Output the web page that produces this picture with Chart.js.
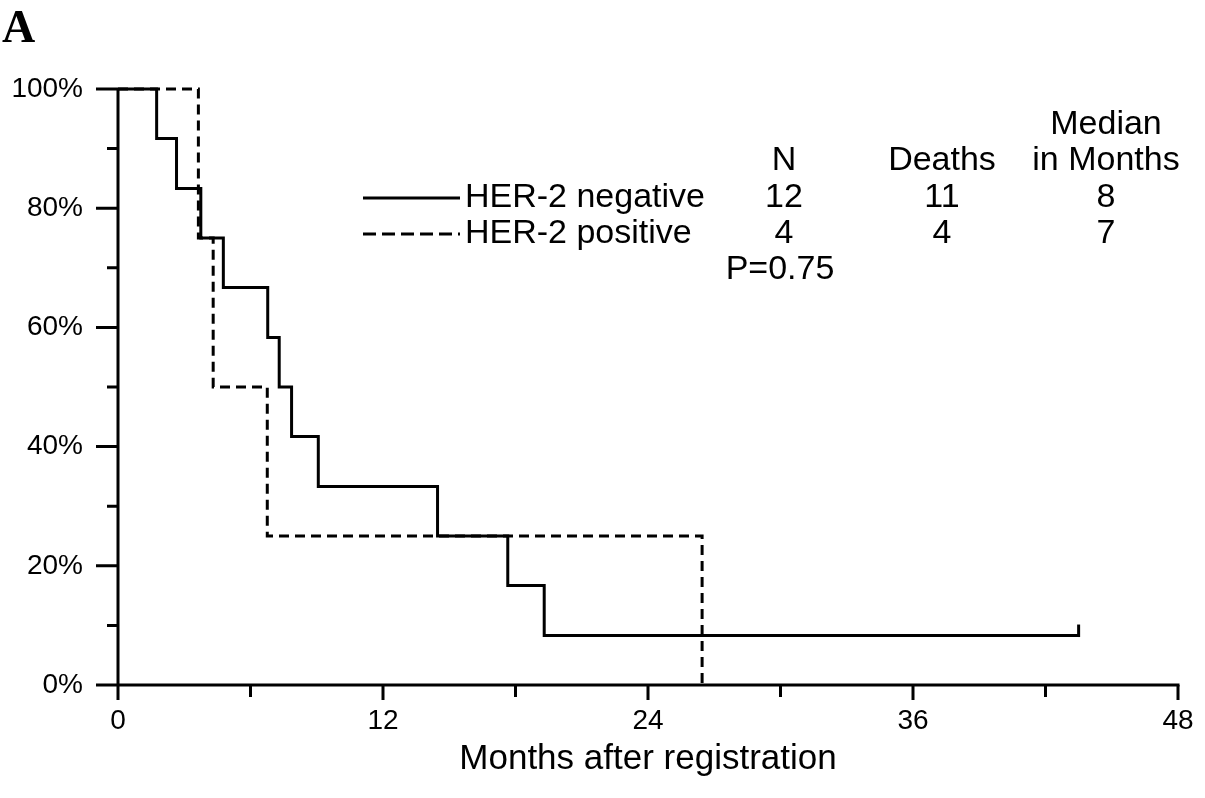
<!DOCTYPE html>
<html>
<head>
<meta charset="utf-8">
<style>
  html, body { margin: 0; padding: 0; background: #fff; }
  #wrap { width: 1205px; height: 798px; }
</style>
<script src="https://cdn.jsdelivr.net/npm/chart.js@4.4.0/dist/chart.umd.min.js"></script>
</head>
<body>
<div id="wrap"><canvas id="km" width="1205" height="798"></canvas></div>
<script>
// HER-2 negative (solid line), step points: month of event, survival after it
const negMonths = [0, 1.75, 2.65, 3.75, 4.77, 6.78, 7.3, 7.86, 9.07, 14.47, 17.65, 19.3, 43.5];
const negSurv = [100, 91.7, 83.3, 75, 66.7, 58.3, 50, 41.7, 33.3, 25, 16.7, 8.3, 8.3];
// HER-2 positive (dashed line)
const posMonths = [0, 3.64, 4.31, 6.76, 26.45];
const posSurv = [100, 75, 50, 25, 0];
// censored observation
const censorMonths = [43.5];
const censorSurv = [8.3];

// legend table
const groups = ['HER-2 negative', 'HER-2 positive'];
const nValues = ['12', '4'];
const deaths = ['11', '4'];
const medians = ['8', '7'];
const pValue = 'P=0.75';

const xTicks = [0, 12, 24, 36, 48];
const yTicks = [0, 20, 40, 60, 80, 100];

const FONT = "'Liberation Sans', Arial, sans-serif";

function toPoints(xs, ys) {
  return xs.map((x, i) => ({ x: x, y: ys[i] }));
}

// axes with long/short ticks, censor marks, legend table, panel letter
const kmDecor = {
  id: 'kmDecor',
  afterDatasetsDraw(chart) {
    const ctx = chart.ctx;
    const xs = chart.scales.x, ys = chart.scales.y;
    const left = xs.left, right = xs.right, top = ys.top, bottom = ys.bottom;
    ctx.save();
    ctx.strokeStyle = '#000';
    ctx.lineWidth = 3;
    ctx.lineCap = 'butt';

    // axis lines
    ctx.beginPath();
    ctx.moveTo(left - 22, bottom);
    ctx.lineTo(right + 1.5, bottom);
    ctx.moveTo(left, top);
    ctx.lineTo(left, bottom + 15);
    ctx.stroke();

    // y ticks every 10%
    ctx.beginPath();
    for (let v = 10; v <= 100; v += 10) {
      const py = ys.getPixelForValue(v);
      const len = yTicks.includes(v) ? 22 : 11;
      ctx.moveTo(left - len, py);
      ctx.lineTo(left, py);
    }
    // x ticks every 6 months
    for (let v = 6; v <= 48; v += 6) {
      const px = xs.getPixelForValue(v);
      const len = xTicks.includes(v) ? 15 : 12;
      ctx.moveTo(px, bottom);
      ctx.lineTo(px, bottom + len);
    }
    ctx.stroke();

    // censor marks
    ctx.beginPath();
    censorMonths.forEach((m, i) => {
      const px = xs.getPixelForValue(m);
      const py = ys.getPixelForValue(censorSurv[i]);
      ctx.moveTo(px, py + 1.5);
      ctx.lineTo(px, py - 11);
    });
    ctx.stroke();

    // legend table
    ctx.fillStyle = '#000';
    ctx.font = '34px ' + FONT;
    ctx.textBaseline = 'middle';
    const colN = 784, colD = 942, colM = 1106;
    ctx.textAlign = 'center';
    ctx.fillText('Median', colM, 125);
    ctx.fillText('N', colN, 161);
    ctx.fillText('Deaths', colD, 161);
    ctx.fillText('in Months', colM, 161);
    const rowY = [198, 234];
    const dashes = [[], [13, 6]];
    groups.forEach((g, i) => {
      ctx.setLineDash(dashes[i]);
      ctx.beginPath();
      ctx.moveTo(363, rowY[i]);
      ctx.lineTo(460, rowY[i]);
      ctx.stroke();
      ctx.setLineDash([]);
      ctx.textAlign = 'left';
      ctx.fillText(g, 465, rowY[i]);
      ctx.textAlign = 'center';
      ctx.fillText(nValues[i], colN, rowY[i]);
      ctx.fillText(deaths[i], colD, rowY[i]);
      ctx.fillText(medians[i], colM, rowY[i]);
    });
    ctx.fillText(pValue, 780, 270);

    // panel letter
    ctx.font = "bold 46px 'Liberation Serif', 'Times New Roman', serif";
    ctx.textAlign = 'left';
    ctx.textBaseline = 'alphabetic';
    ctx.fillText('A', 2, 42);
    ctx.restore();
  }
};

new Chart(document.getElementById('km'), {
  type: 'scatter',
  data: {
    datasets: [
      {
        label: groups[0],
        data: toPoints(negMonths, negSurv),
        showLine: true,
        stepped: true,
        borderColor: '#000',
        borderWidth: 3,
        pointRadius: 0,
        clip: false
      },
      {
        label: groups[1],
        data: toPoints(posMonths, posSurv),
        showLine: true,
        stepped: true,
        borderColor: '#000',
        borderWidth: 3,
        borderDash: [10, 6],
        pointRadius: 0,
        clip: false
      }
    ]
  },
  options: {
    responsive: false,
    animation: false,
    layout: { padding: { left: 0, right: 27, top: 89, bottom: 0 } },
    plugins: { legend: { display: false }, tooltip: { enabled: false } },
    scales: {
      x: {
        type: 'linear',
        min: 0,
        max: 48,
        grid: { display: false, drawTicks: false },
        border: { display: false },
        ticks: {
          stepSize: 6,
          autoSkip: false,
          maxRotation: 0,
          padding: 19,
          color: '#000',
          font: { family: FONT, size: 28 },
          callback: v => xTicks.includes(v) ? String(v) : ''
        },
        title: {
          display: true,
          text: 'Months after registration',
          color: '#000',
          font: { family: FONT, size: 35 },
          padding: { top: 0, bottom: 18 }
        },
        afterFit: s => { s.height = 113; s.paddingRight = 0; s.paddingLeft = 0; }
      },
      y: {
        min: 0,
        max: 100,
        grid: { display: false, drawTicks: false },
        border: { display: false },
        ticks: {
          stepSize: 10,
          autoSkip: false,
          padding: 35,
          color: '#000',
          font: { family: FONT, size: 28 },
          callback: v => yTicks.includes(v) ? v + '%' : ''
        },
        afterFit: s => { s.width = 118; }
      }
    }
  },
  plugins: [kmDecor]
});
</script>
</body>
</html>
